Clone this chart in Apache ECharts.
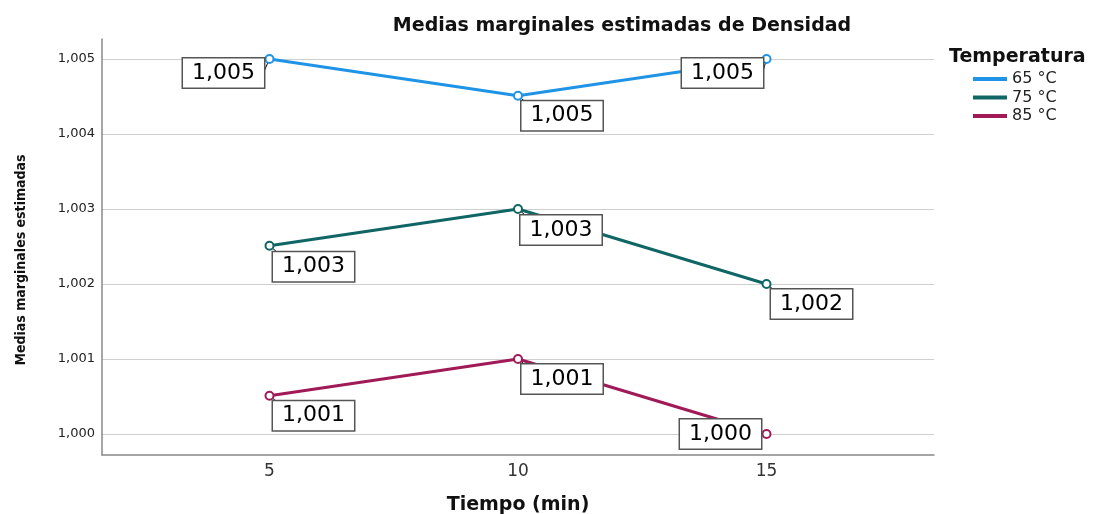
<!DOCTYPE html>
<html>
<head>
<meta charset="utf-8">
<script src="https://cdn.jsdelivr.net/npm/echarts@6/dist/echarts.min.js"></script>
<style>
  html, body { margin: 0; padding: 0; background: #fff; }
  #chart { width: 1094px; height: 514px; }
</style>
</head>
<body>
<div id="chart"></div>
<script>
// datos
const tiempos = [5, 10, 15];
const temperaturas = ["65 °C", "75 °C", "85 °C"];
const densidad65 = [1.00500, 1.00451, 1.00500];
const densidad75 = [1.00251, 1.00300, 1.00200];
const densidad85 = [1.00051, 1.00100, 1.00000];
const yTicks = [1.000, 1.001, 1.002, 1.003, 1.004, 1.005];

const colores = ["#1f93e6", "#0f6664", "#a01a58"];
// desplazamiento de cada etiqueta respecto a su punto
const offsets = [
  [[-46, 14], [44, 20], [-44, 14]],
  [[44, 21], [43, 21], [45, 20]],
  [[44, 20], [44, 20], [-46, 0]]
];

const fmt = v => v.toFixed(3).replace(".", ",");

const serie = (i, valores) => ({
  name: temperaturas[i],
  type: "line",
  symbol: "emptyCircle",
  symbolSize: 8,
  itemStyle: { color: colores[i], borderWidth: 1.5 },
  lineStyle: { width: 3, color: colores[i] },
  label: {
    show: true,
    position: "inside",
    formatter: p => fmt(p.value[1]),
    fontFamily: "DejaVu Sans",
    fontSize: 22,
    color: "#000",
    backgroundColor: "#fff",
    borderColor: "#555",
    borderWidth: 1.5,
    padding: [4, 9, 3, 9]
  },
  labelLine: { show: true, lineStyle: { color: "#000", width: 1 } },
  data: tiempos.map((t, j) => ({
    value: [t, valores[j]],
    label: { offset: offsets[i][j] }
  })),
  z: 3
});

const chart = echarts.init(document.getElementById("chart"));
chart.setOption({
  animation: false,
  title: [
    {
      text: "Medias marginales estimadas de Densidad",
      left: 617, top: 12, textAlign: "center",
      textStyle: { fontFamily: "DejaVu Sans", fontWeight: "bold", fontSize: 19, color: "#111" }
    },
    {
      text: "Temperatura",
      left: 944, top: 43,
      textStyle: { fontFamily: "DejaVu Sans", fontWeight: "bold", fontSize: 19, color: "#111" }
    }
  ],
  legend: {
    orient: "vertical",
    left: 973, top: 71,
    padding: 0,
    icon: "rect",
    itemWidth: 34, itemHeight: 4, itemGap: 2.5,
    textStyle: { fontFamily: "DejaVu Sans", fontSize: 16, color: "#222" },
    data: temperaturas
  },
  grid: { left: 102, right: 160, top: 39, bottom: 59, outerBoundsMode: "none" },
  xAxis: {
    type: "value",
    min: 1.63, max: 18.37,
    name: "Tiempo (min)",
    nameLocation: "middle",
    nameGap: 41,
    nameTextStyle: { fontFamily: "DejaVu Sans", fontWeight: "bold", fontSize: 19, color: "#111" },
    axisLine: { lineStyle: { color: "#888", width: 1.5 } },
    axisTick: { show: false, customValues: tiempos },
    axisLabel: { customValues: tiempos, fontFamily: "DejaVu Sans", fontSize: 17, color: "#333", margin: 8 },
    splitLine: { show: false }
  },
  yAxis: {
    type: "value",
    min: 0.99972, max: 1.005267,
    name: "Medias marginales estimadas",
    nameLocation: "middle",
    nameGap: 74,
    nameTextStyle: { fontFamily: "DejaVu Sans Condensed", fontWeight: "bold", fontSize: 14, color: "#111", padding: [0, 26, 0, 0] },
    axisLine: { show: true, lineStyle: { color: "#888", width: 1.5 } },
    axisTick: { show: false, customValues: yTicks },
    axisLabel: { customValues: yTicks, formatter: v => fmt(v), fontFamily: "DejaVu Sans", fontSize: 13, color: "#222", margin: 7 },
    splitLine: { show: true, lineStyle: { color: "#cfcfcf", width: 1.2 } }
  },
  series: [
    serie(0, densidad65),
    serie(1, densidad75),
    serie(2, densidad85)
  ]
});
</script>
</body>
</html>
